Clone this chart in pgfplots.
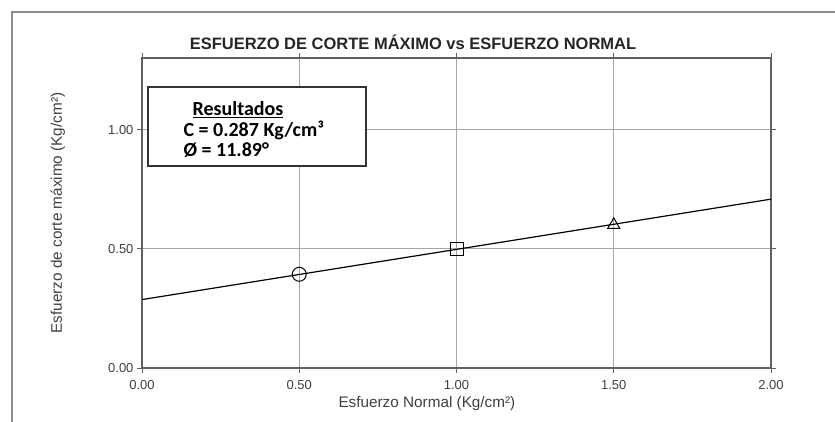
\documentclass[border=0pt]{standalone}
\usepackage{fontspec}
\setmainfont{Liberation Sans}
\newfontfamily\carlito{Carlito}
\usepackage{pgfplots}
\pgfplotsset{compat=1.18}
\definecolor{txtgray}{HTML}{404040}
\definecolor{gridgray}{HTML}{A6A6A6}
\definecolor{framegray}{HTML}{8C8C8C}
\begin{document}
\begin{tikzpicture}[x=1pt,y=1pt]
\useasboundingbox (0,0) rectangle (835,421);
\fill[white] (0,0) rectangle (835,421);
% chart frame (cut off at right and bottom)
\draw[framegray, line width=1.6pt] (12,-20) -- (12,409) -- (860,409);
\begin{axis}[
  at={(142pt,53pt)}, anchor=south west,
  scale only axis, width=629pt, height=310pt,
  xmin=0, xmax=2, ymin=0, ymax=1.3,
  xtick={0,0.5,1,1.5,2}, ytick={0,0.5,1},
  grid=major,
  major grid style={gridgray, line width=1.2pt},
  axis line style={gray!75!black, line width=1.2pt},
  tick align=outside, major tick length=5pt,
  tick style={gray!75!black, line width=1pt},
  xticklabel={\pgfmathprintnumber[fixed,fixed zerofill,precision=2]{\tick}},
  yticklabel={\pgfmathprintnumber[fixed,fixed zerofill,precision=2]{\tick}},
  /pgf/number format/assume math mode=true,
  tick label style={font=\fontsize{13}{13}\selectfont, color=txtgray},
  xticklabel style={yshift=-4pt},
  xlabel={Esfuerzo Normal (Kg/cm²)},
  ylabel={Esfuerzo de corte máximo (Kg/cm²)},
  every axis x label/.style={at={(axis description cs:0.453,-0.116)}, anchor=center},
  every axis y label/.style={at={(axis description cs:-0.134,0.5)}, rotate=90, anchor=center},
  label style={font=\fontsize{15.3}{15.3}\selectfont, color=txtgray},
  clip=false,
]
\addplot[black, line width=1.2pt] coordinates {(0,0.287) (2,0.708)};
\addplot[only marks, black, line width=1pt, mark=o, mark size=7pt, mark options={fill=white}]
  coordinates {(0.5,0.393)};
\addplot[only marks, black, line width=1pt, mark=square, mark size=6.5pt, mark options={fill=white}]
  coordinates {(1.0,0.497)};
\addplot[only marks, black, line width=1pt, mark=triangle, mark size=7pt, mark options={fill=white}]
  coordinates {(1.5,0.600)};
\end{axis}
% title
\node[font=\bfseries\fontsize{16.5}{18}\selectfont, color=black!85] at (413,379)
  {ESFUERZO DE CORTE MÁXIMO vs ESFUERZO NORMAL};
% results box
\draw[black!80, line width=1.6pt, fill=white] (148,255) rectangle (366,334);
\node[font=\carlito\bfseries\fontsize{20}{20}\selectfont] at (238,311) {\underline{Resultados}};
\node[font=\carlito\bfseries\fontsize{20}{20}\selectfont, anchor=west] at (180,291) {C = 0.287 Kg/cm³};
\node[font=\carlito\bfseries\fontsize{20}{20}\selectfont, anchor=west] at (180,271) {Ø = 11.89°};
\end{tikzpicture}
\end{document}
